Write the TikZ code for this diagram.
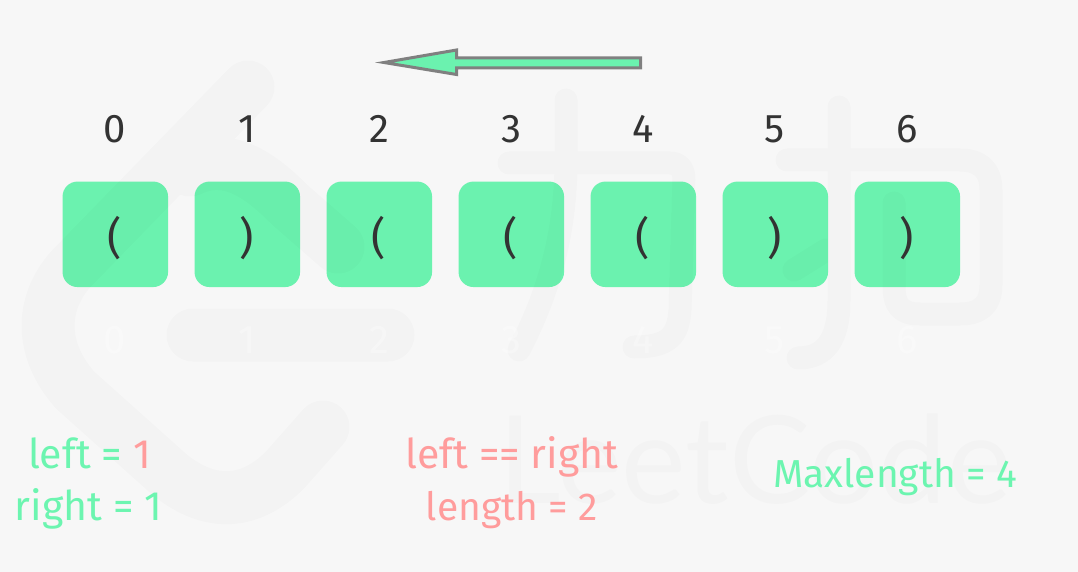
\documentclass[tikz,border=0pt]{standalone}
\usepackage{fontspec}
\setmainfont{Fira Sans}
\newfontfamily\brandfont{Lato}
\definecolor{bgc}{HTML}{F7F7F7}
\definecolor{boxc}{HTML}{6BF2AF}
\definecolor{grn}{HTML}{6CF5B0}
\definecolor{rd}{HTML}{FF9C9C}
\definecolor{ink}{HTML}{333333}
\definecolor{edgeg}{HTML}{808080}
\tikzset{
  cell/.style={rectangle,rounded corners=15pt,fill=boxc,minimum size=105.5pt,inner sep=0pt},
  paren/.style={font=\fontsize{44}{44}\selectfont,text=ink,inner sep=0pt},
  idx/.style={font=\fontsize{40}{40}\selectfont,text=ink,inner sep=0pt},
  ghost/.style={font=\fontsize{40}{40}\selectfont,text=white,opacity=.3,inner sep=0pt},
  lab/.style={font=\fontsize{41}{41}\selectfont,inner sep=0pt,anchor=base},
  labsmall/.style={font=\fontsize{39}{39}\selectfont,inner sep=0pt,anchor=base},
  logostroke/.style={line width=53pt,line cap=round,line join=round},
  charstroke/.style={line width=23pt,line cap=round,line join=round}
}
\begin{document}
\begin{tikzpicture}[x=1pt,y=-1pt]
\useasboundingbox (0,0) rectangle (1078,572);
\fill[bgc] (0,0) rectangle (1078,572);
% cells
\foreach \i/\x in {0/115.3,1/247.3,2/379.3,3/511.3,4/643.3,5/775.3,6/907.3}{
  \node[cell] (c\i) at (\x,234.3) {};
}
% watermark over the cells
\begin{scope}[transparency group,opacity=.016]
\draw[logostroke] (248,87) -- (70,270) .. controls (40,305) and (40,350) .. (75,390) -- (170,475) .. controls (210,507) and (250,505) .. (285,470) -- (323,427);
\draw[logostroke] (338,247) -- (290,205) .. controls (265,180) and (230,150) .. (190,170);
\draw[logostroke] (193,335) -- (388,335);
\draw[charstroke] (509,163) -- (670,163) .. controls (680,163) and (684,170) .. (684,180) -- (680,310) .. controls (678,335) and (670,347) .. (634,347);
\draw[charstroke] (566,100) -- (566,160) .. controls (566,240) and (545,300) .. (519,350);
\draw[charstroke] (787,160) -- (960,160) .. controls (980,160) and (991,170) .. (991,190) -- (991,285) .. controls (991,305) and (980,314) .. (960,314) -- (920,314) .. controls (900,314) and (894,305) .. (894,285) -- (894,203);
\draw[charstroke] (839,107) -- (839,300) .. controls (839,340) and (825,358) .. (798,358);
\draw[charstroke] (794,270) -- (826,250);
\node[font=\brandfont\fontsize{122}{122}\selectfont,inner sep=0pt,anchor=base] (brand) at (755,503) {LeetCode};
\end{scope}
% arrow
\draw[draw=edgeg,line width=3pt,fill=boxc,miter limit=10] (640.5,58) -- (456.5,58) -- (456.5,50) -- (384,62.5) -- (456.5,74.5) -- (456.5,68) -- (640.5,68) -- cycle;
% labels
\foreach \i/\x/\c in {0/115/(,1/247/),2/379/(,3/511/(,4/643/(,5/775/),6/907/)}{
  \node[idx] (n\i) at (\x,129) {\i};
  \node[paren] (p\i) at (\x,238) {\c};
  \node[ghost] (g\i) at (\x,340) {\i};
}
\node[lab,text=grn] (l1) at (89.5,468) {left = \textcolor{rd}{1}};
\node[lab,text=grn] (l2) at (88.5,520) {right = 1};
\node[lab,text=rd] (m1) at (512,468) {left == right};
\node[labsmall,text=rd] (m2) at (512,520) {length = 2};
\node[labsmall,text=grn] (r1) at (895,487) {Maxlength = 4};
\end{tikzpicture}
\end{document}
